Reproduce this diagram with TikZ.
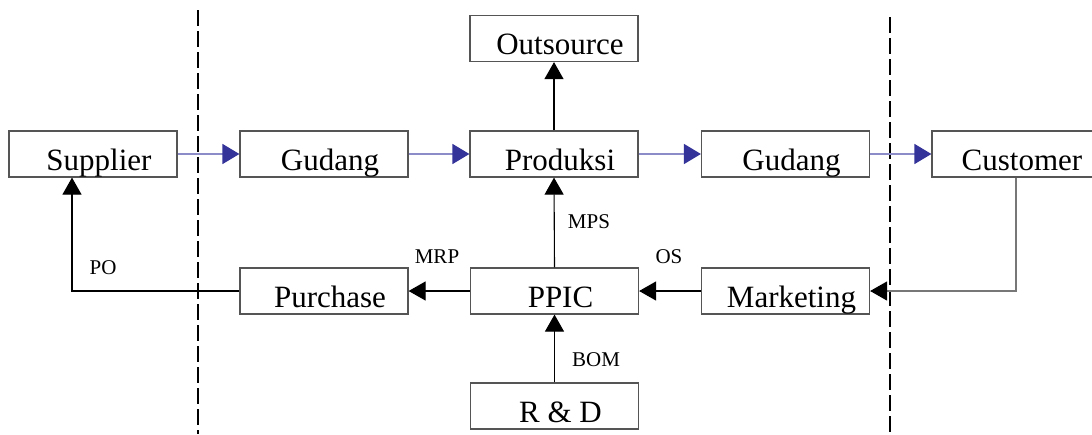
\documentclass[tikz,border=0pt]{standalone}
\usepackage{fontspec}
\setmainfont{Liberation Serif}
\usetikzlibrary{arrows.meta}
\definecolor{boxgray}{HTML}{555555}
\definecolor{flowline}{HTML}{8C8CC8}
\definecolor{flowhead}{HTML}{333399}
\definecolor{linkgray}{HTML}{777777}
\tikzset{
  box/.style={draw=boxgray, line width=1.2pt, rectangle, minimum width=168pt, minimum height=46pt,
    inner sep=0pt, text height=39pt, text depth=7pt, font=\fontsize{31}{31}\selectfont,
    execute at begin node=\hspace*{12pt}},
  flow/.style={draw=flowline, line width=1.3pt, -{Triangle[length=17pt,width=20pt,color=flowhead,fill=flowhead]}},
  link/.style={draw=black, line width=1.1pt, -{Triangle[length=17pt,width=19pt,color=black,fill=black]}},
  lbl/.style={inner sep=0pt, font=\fontsize{21}{21}\selectfont},
  divider/.style={draw=black, line width=1.6pt, dash pattern=on 16pt off 5pt}
}
\begin{document}
\begin{tikzpicture}[x=1pt,y=-1pt]
\useasboundingbox (0,0) rectangle (1092,434);
\fill[white] (0,0) rectangle (1092,434);
% dividers
\draw[divider] (198,10) -- (198,434);
\draw[divider] (890,17) -- (890,434);
% boxes
\node[box] (supplier) at (93,154) {Supplier};
\node[box] (gudang1) at (324,154) {Gudang};
\node[box] (produksi) at (554,154) {Produksi};
\node[box] (outsource) at (554,38.5) {Outsource};
\node[box] (gudang2) at (785.5,154) {Gudang};
\node[box] (customer) at (1016,154) {Customer};
\node[box] (purchase) at (324,291) {Purchase};
\node[box] (ppic) at (554.5,291) {PPIC};
\node[box] (marketing) at (785.5,291) {Marketing};
\node[box] (rnd) at (554.5,406) {R \& D};
% material flow
\draw[flow] (supplier.east) -- (gudang1.west);
\draw[flow] (gudang1.east) -- (produksi.west);
\draw[flow] (produksi.east) -- (gudang2.west);
\draw[flow] (gudang2.east) -- (customer.west);
% information flow
\draw[link] (produksi.north) -- (outsource.south);
\draw[link] (ppic.north) -- (produksi.south);
\draw[link] (ppic.west) -- (purchase.east);
\draw[link] (marketing.west) -- (ppic.east);
\draw[link] (rnd.north) -- (ppic.south);
\coordinate (poup) at ([xshift=-21pt]supplier.south);
\draw[link] (purchase.west) -| (poup);
\draw[link, draw=linkgray, line width=1.3pt] (customer.south) |- (marketing.east);
% labels
\node[lbl] (mps) at (589,222) {MPS};
\node[lbl] (mrp) at (437,257) {MRP};
\node[lbl] (os) at (669,257) {OS};
\node[lbl] (bom) at (596,360) {BOM};
\node[lbl] (po) at (103,268) {PO};
\end{tikzpicture}
\end{document}
